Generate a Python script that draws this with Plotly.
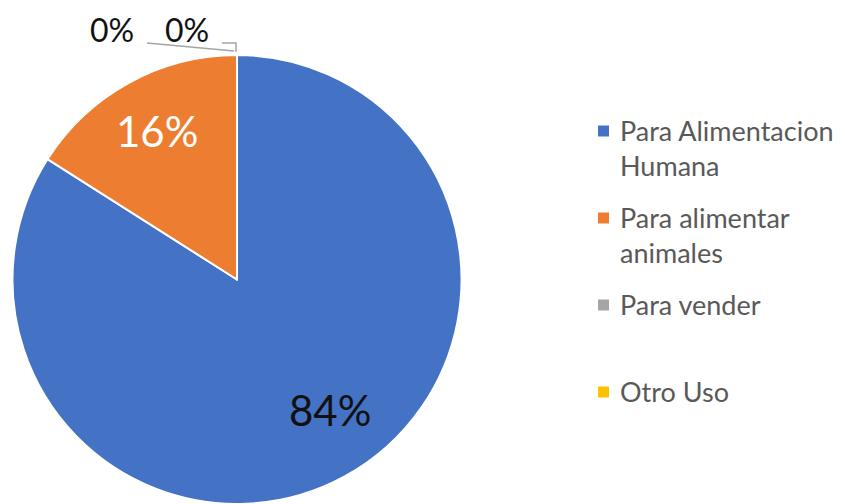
import plotly.graph_objects as go

# datos
categorias = ["Para Alimentacion<br>Humana", "Para alimentar<br>animales", "Para vender", "Otro Uso"]
valores = [84, 16, 0, 0]
colores = ["#4472C4", "#ED7D31", "#A5A5A5", "#FFC000"]

# la pagina tiene 8px de margen en el body, la figura se reduce en eso
W, H = 845, 504
OFF = 8
FW, FH = W - OFF, H - OFF


def px(x):
    return (x - OFF) / FW


def py(y):
    return 1 - (y - OFF) / FH


trace = go.Pie(
    labels=categorias,
    values=valores,
    sort=False,
    direction="clockwise",
    rotation=0,
    marker=dict(colors=colores, line=dict(color="white", width=2)),
    textinfo="none",
    domain=dict(x=[px(12), px(462)], y=[0, py(55)]),
    hoverinfo="label+percent",
    showlegend=False,
)

fig = go.Figure(data=[trace])

# etiquetas de porcentaje (posiciones en pantalla)
total = sum(valores)
pos_etiquetas = [(330, 410), (157, 131), (112, 30), (187, 30)]
color_etiquetas = ["#111111", "white", "#111111", "#111111"]
tam_etiquetas = [42, 42, 32, 32]
for v, (x, y), c, s in zip(valores, pos_etiquetas, color_etiquetas, tam_etiquetas):
    fig.add_annotation(
        x=px(x), y=py(y), xref="paper", yref="paper",
        xanchor="center", yanchor="middle", borderpad=0,
        text="{:.0%}".format(v / total), showarrow=False,
        font=dict(family="Lato", size=s, color=c),
    )

# lineas guia de las porciones en 0%
fig.add_shape(type="path", xref="paper", yref="paper",
              path="M {} {} L {} {}".format(px(147), py(43), px(234), py(51)),
              line=dict(color="#A5A5A5", width=1.5))
fig.add_shape(type="path", xref="paper", yref="paper",
              path="M {} {} L {} {} L {} {}".format(px(222), py(43), px(236), py(43), px(236), py(52)),
              line=dict(color="#A5A5A5", width=1.5))

# leyenda
for i, (cat, col) in enumerate(zip(categorias, colores)):
    yc = 131 + 87 * i
    fig.add_shape(type="rect", xref="paper", yref="paper",
                  x0=px(598), x1=px(609), y0=py(yc - 5.5), y1=py(yc + 5.5),
                  fillcolor=col, line=dict(width=0))
    fig.add_annotation(
        x=px(618), y=py(yc - 19), xref="paper", yref="paper",
        xanchor="left", yanchor="top", align="left",
        text=cat, showarrow=False,
        font=dict(family="Lato", size=27, color="#595959"),
    )

fig.update_layout(
    width=FW,
    height=FH,
    margin=dict(l=0, r=0, t=0, b=0),
    paper_bgcolor="white",
    showlegend=False,
)

fig.write_html("out.html")
